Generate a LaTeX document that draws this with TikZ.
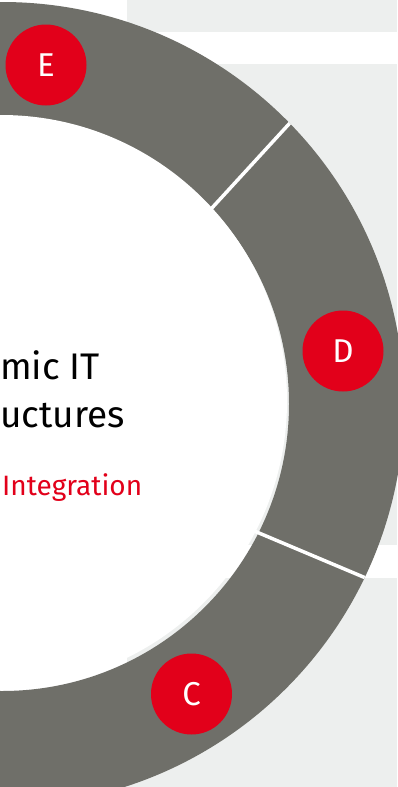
\documentclass[tikz,border=0pt]{standalone}
\usepackage{fontspec}
\setmainfont{Fira Sans}
\definecolor{ringgray}{RGB}{111,111,105}
\definecolor{fjred}{RGB}{226,0,26}
\definecolor{panelgray}{RGB}{237,239,238}
\begin{document}
\begin{tikzpicture}[x=1pt, y=-1pt]
  \tikzset{
    badge/.style={circle, fill=fjred, text=white, minimum size=81pt, inner sep=0pt, font=\fontsize{33}{33}\selectfont},
    title/.style={anchor=base west, inner sep=0pt, font=\fontsize{37}{37}\selectfont},
    panel/.style={fill=panelgray, draw=none},
    divider/.style={draw=white, line width=3.5pt}
  }
  \useasboundingbox (0,0) rectangle (397,787);
  \fill[white] (0,0) rectangle (397,787);
  % panels behind the ring
  \fill[panel] (127,0) rectangle (397,32);
  \fill[panel] (127,64) rectangle (397,545);
  \fill[panel] (127,578) rectangle (397,787);

  \coordinate (ctr) at (2,404);
  \fill[ringgray, even odd rule] (ctr) circle (402pt) (ctr) circle (287pt);
  \begin{scope}
    \clip (ctr) circle (402pt);
    \draw[divider] (200,221) -- (300,112);
    \draw[divider] (240,525) -- (380,584);
  \end{scope}
  \fill[white] (1,401) circle (286pt);

  \node[title] (dyn) at (0,379) {mic IT};
  \node[title] (infra) at (0,427) {uctures};
  \node[title, text=fjred, font=\fontsize{28}{28}\selectfont] (integ) at (2,495) {Integration};

  \node[badge] (badgeE) at (46,65) {E};
  \node[badge] (badgeD) at (343,351) {D};
  \node[badge] (badgeC) at (191.5,694) {C};
\end{tikzpicture}
\end{document}
